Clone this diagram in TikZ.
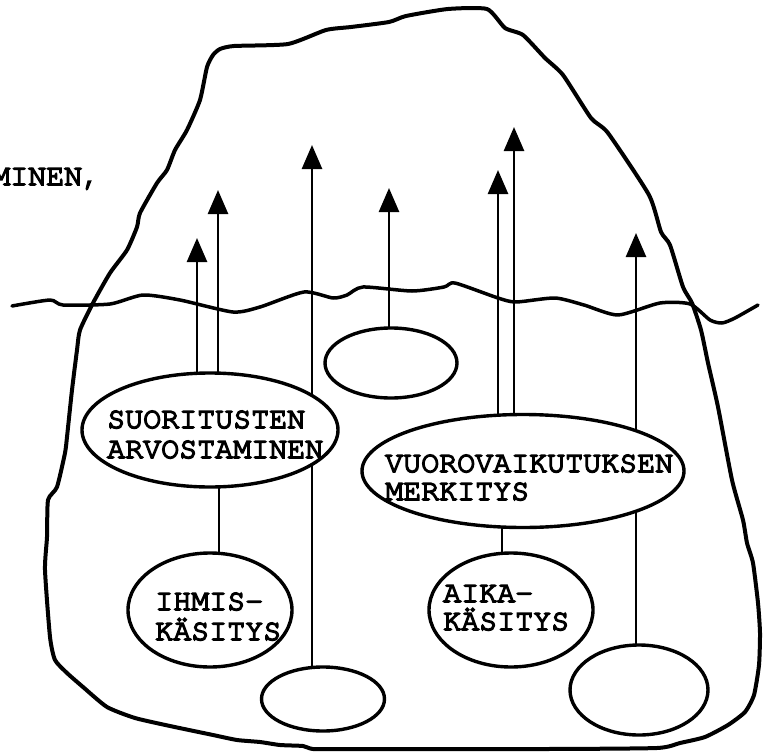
\documentclass[tikz,border=0pt]{standalone}
\usepackage{fontspec}
\newfontfamily\cursorfont[UprightFeatures={FakeBold=5}]{TeX Gyre Cursor}
\usetikzlibrary{shapes.geometric,arrows.meta,backgrounds}

\begin{document}
\begin{tikzpicture}[x=1pt,y=-1pt,
  berg/.style={line width=4pt, line join=round, line cap=round},
  water/.style={line width=3.5pt, line join=round, line cap=round},
  oval/.style={ellipse, draw, line width=3.4pt, fill=white, inner sep=0pt},
  riser/.style={line width=2.6pt, -{Triangle[length=24pt,width=20pt]}},
  link/.style={line width=2.6pt},
  lbl/.style={anchor=base west, inner sep=0pt, font=\cursorfont\fontsize{30}{30}\selectfont}]
\useasboundingbox (0,0) rectangle (763,752);

% concept ovals
\node[oval, minimum width=256pt, minimum height=114pt] (suo) at (210,430) {};
\node[oval, minimum width=132pt, minimum height=70pt]  (mid) at (391,363) {};
\node[oval, minimum width=322pt, minimum height=113pt] (vuo) at (523,471) {};
\node[oval, minimum width=164pt, minimum height=114pt] (ihm) at (210,610) {};
\node[oval, minimum width=123pt, minimum height=64pt]  (low) at (323,699) {};
\node[oval, minimum width=164pt, minimum height=114pt] (aik) at (511,610) {};
\node[oval, minimum width=138pt, minimum height=90pt]  (rgt) at (639,690) {};

% labels
\node[lbl] (suo1) at (107,428) {SUORITUSTEN};
\node[lbl] (suo2) at (107,458) {ARVOSTAMINEN};
\node[lbl] (vuo1) at (385,472) {VUOROVAIKUTUKSEN};
\node[lbl] (vuo2) at (385,500) {MERKITYS};
\node[lbl] (ihm1) at (155,610) {IHMIS-};
\node[lbl] (ihm2) at (155,640) {KÄSITYS};
\node[lbl] (aik1) at (443,602) {AIKA-};
\node[lbl] (aik2) at (443,630) {KÄSITYS};
\node[lbl] (side) at (-8,185) {MINEN,};

% arrow tips
\coordinate (tA) at (197,238);
\coordinate (tB) at (218,190);
\coordinate (tC) at (312,145);
\coordinate (tD) at (389,188);
\coordinate (tE) at (498,170);
\coordinate (tF) at (514,127);
\coordinate (tG) at (636,233);
\coordinate (k1) at (219,600);
\coordinate (k2) at (502,600);

\begin{pgfonlayer}{background}
  % iceberg outline
  \draw[berg] plot[smooth cycle, tension=0.35] coordinates {
    (213,55) (220,49) (234,46) (288,44) (326,30) (351,27) (389,22) (406,16)
    (448,9) (487,9) (505,28) (523,35) (545,58) (563,75) (591,118) (608,133)
    (649,195) (661,232) (670,245) (683,287) (692,303) (701,330) (708,363)
    (718,407) (732,480) (743,520) (747,543) (753,563) (758,603) (760,633)
    (759,665) (754,695) (745,712) (728,725) (705,737) (680,743) (657,748)
    (547,749) (347,749) (313,749) (303,746) (280,745) (260,742) (237,740)
    (213,735) (170,726) (135,718) (107,707) (83,687) (67,673) (55,660)
    (50,637) (45,570) (47,537) (48,500) (57,487) (65,453) (67,437) (72,390)
    (77,350) (80,330) (93,303) (110,273) (127,250) (137,227) (140,213)
    (157,183) (167,170) (175,150) (187,130) (200,100) (207,67)};
  % waterline
  \draw[water] plot[smooth, tension=0.4] coordinates {
    (12,306) (50,300) (63,305) (110,304) (143,295) (180,300) (233,312)
    (260,307) (304,292) (333,298) (347,295) (363,287) (412,291) (444,287)
    (455,283) (498,298) (516,302) (555,298) (584,305) (618,315) (660,303)
    (690,304) (710,320) (722,323) (735,318) (758,305)};
  % rising arrows
  \draw[riser] (tA |- suo.center) -- (tA);
  \draw[riser] (tB |- suo.center) -- (tB);
  \draw[riser] (tC |- low.center) -- (tC);
  \draw[riser] (tD |- mid.center) -- (tD);
  \draw[riser] (tE |- vuo.center) -- (tE);
  \draw[riser] (tF |- vuo.center) -- (tF);
  \draw[riser] (tG |- rgt.center) -- (tG);
  % links between ovals
  \draw[link] (k1 |- suo.center) -- (k1 |- ihm.center);
  \draw[link] (k2 |- vuo.center) -- (k2 |- aik.center);
\end{pgfonlayer}
\end{tikzpicture}
\end{document}
